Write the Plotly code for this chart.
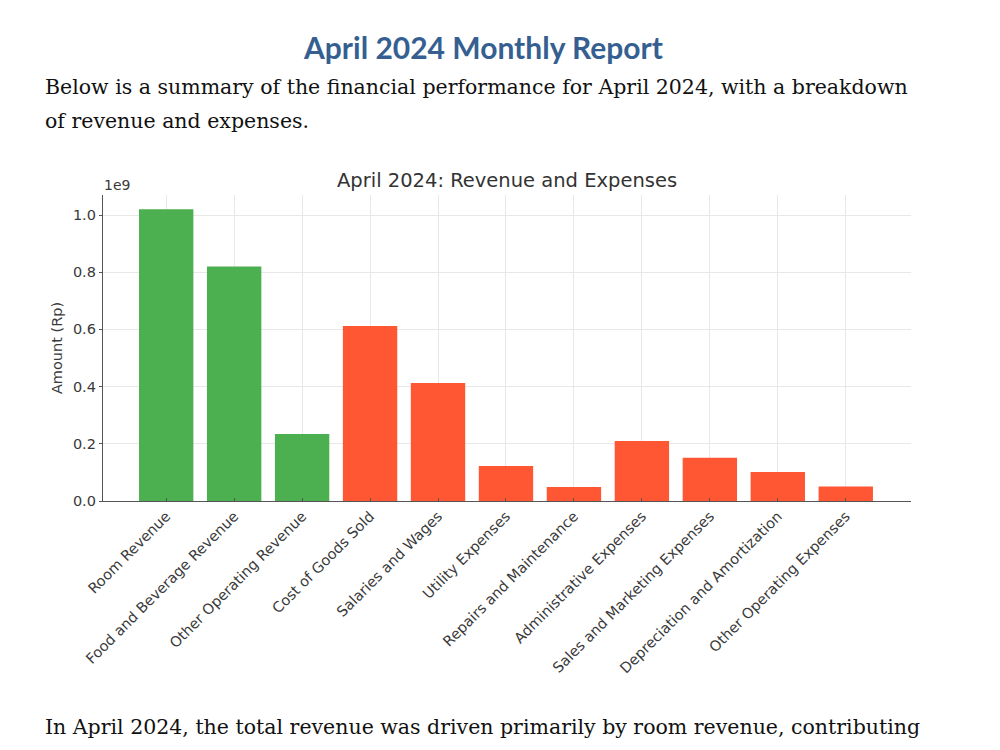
import plotly.graph_objects as go

categories = ["Room Revenue", "Food and Beverage Revenue", "Other Operating Revenue",
              "Cost of Goods Sold", "Salaries and Wages", "Utility Expenses",
              "Repairs and Maintenance", "Administrative Expenses",
              "Sales and Marketing Expenses", "Depreciation and Amortization",
              "Other Operating Expenses"]
amounts = [1.02e9, 0.82e9, 0.234e9, 0.612e9, 0.413e9, 0.122e9, 0.049e9,
           0.21e9, 0.151e9, 0.101e9, 0.051e9]
kinds = ["Revenue"] * 3 + ["Expense"] * 8
color_map = {"Revenue": "#4CAF50", "Expense": "#FF5733"}
y_tickvals = [0, 0.2e9, 0.4e9, 0.6e9, 0.8e9, 1.0e9]
y_ticktext = ["0.0", "0.2", "0.4", "0.6", "0.8", "1.0"]


def py(pix):
    return 1 - pix / 750


fig = go.Figure()
fig.add_trace(go.Bar(
    x=categories, y=amounts, width=0.8,
    marker=dict(color=[color_map[k] for k in kinds], line=dict(width=0)),
    showlegend=False,
))

tick_font = dict(family="DejaVu Sans", size=14.5, color="#3a3a3a")
fig.update_layout(
    width=1000, height=750,
    margin=dict(l=0, r=0, t=0, b=0),
    paper_bgcolor="white", plot_bgcolor="white",
    xaxis=dict(domain=[0.103, 0.911], range=[-0.93, 10.96], automargin=False,
               tickangle=-45, tickfont=tick_font,
               showgrid=True, gridcolor="#e8e8e8", gridwidth=1,
               showline=True, linecolor="#555", linewidth=1.3,
               ticks="inside", ticklen=3, tickcolor="#555"),
    yaxis=dict(domain=[py(501), py(195)], range=[0, 1.07e9], automargin=False,
               tickvals=y_tickvals, ticktext=y_ticktext, tickfont=tick_font,
               showgrid=True, gridcolor="#e8e8e8", gridwidth=1,
               showline=True, linecolor="#555", linewidth=1.3,
               ticks="outside", ticklen=3, tickcolor="#555",
               zeroline=False,
               title=dict(text="Amount (Rp)", font=dict(family="DejaVu Sans", size=14.5, color="#3a3a3a"),
                          standoff=6)),
)

fig.add_annotation(text="1e9", xref="paper", yref="paper", x=0.102, y=py(185),
                   xanchor="left", yanchor="middle", showarrow=False,
                   font=dict(family="DejaVu Sans", size=14, color="#3a3a3a"))
fig.add_annotation(text="April 2024: Revenue and Expenses", xref="paper", yref="paper",
                   x=0.507, y=py(180), xanchor="center", yanchor="middle", showarrow=False,
                   font=dict(family="DejaVu Sans", size=19.5, color="#333"))

# document text
fig.add_annotation(text="<b>April 2024 Monthly Report</b>", xref="paper", yref="paper",
                   x=0.483, y=py(47), xanchor="center", yanchor="middle", showarrow=False,
                   font=dict(family="Lato", size=30, color="#365F91"))
body_font = dict(family="DejaVu Serif", size=20.5, color="#111")
fig.add_annotation(text="Below is a summary of the financial performance for April 2024, with a breakdown",
                   xref="paper", yref="paper", x=0.043, y=py(87),
                   xanchor="left", yanchor="middle", showarrow=False, font=body_font)
fig.add_annotation(text="of revenue and expenses.",
                   xref="paper", yref="paper", x=0.043, y=py(121),
                   xanchor="left", yanchor="middle", showarrow=False, font=body_font)
fig.add_annotation(text="In April 2024, the total revenue was driven primarily by room revenue, contributing",
                   xref="paper", yref="paper", x=0.043, y=py(727),
                   xanchor="left", yanchor="middle", showarrow=False, font=body_font)

fig.write_html("out.html")
